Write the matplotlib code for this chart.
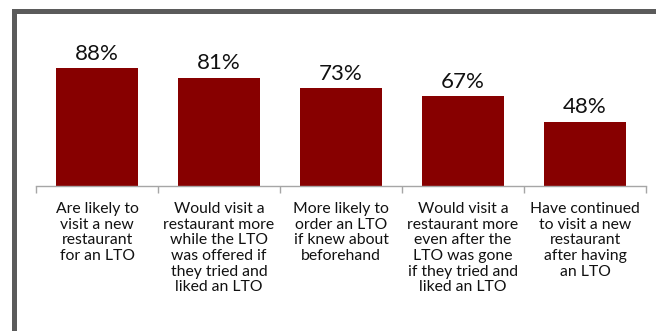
import matplotlib
matplotlib.use("Agg")
import matplotlib.pyplot as plt
from matplotlib.patches import Rectangle

categories = [
    "Are likely to\nvisit a new\nrestaurant\nfor an LTO",
    "Would visit a\nrestaurant more\nwhile the LTO\nwas offered if\nthey tried and\nliked an LTO",
    "More likely to\norder an LTO\nif knew about\nbeforehand",
    "Would visit a\nrestaurant more\neven after the\nLTO was gone\nif they tried and\nliked an LTO",
    "Have continued\nto visit a new\nrestaurant\nafter having\nan LTO",
]
values = [88, 81, 73, 67, 48]
value_labels = ["88%", "81%", "73%", "67%", "48%"]

W, H = 656, 331
fig = plt.figure(figsize=(W / 100, H / 100), dpi=100)
fig.patch.set_facecolor("white")
plt.rcParams['font.family'] = ['Lato', 'DejaVu Sans']

# frame (top and left dark border)
border = "#5b5b5b"
fig.add_artist(Rectangle((12 / W, 1 - 14 / H), 1 - 12 / W, 5 / H,
                         transform=fig.transFigure, color=border, lw=0))
fig.add_artist(Rectangle((12 / W, 0), 5 / W, 1 - 9 / H,
                         transform=fig.transFigure, color=border, lw=0))

base_y = 185.7
top_y = base_y - 133.4
ax = fig.add_axes([36 / W, 1 - base_y / H, 610 / W, (base_y - top_y) / H])
x = list(range(len(values)))
ax.bar(x, values, width=0.67, color="#870000")
ax.set_xlim(-0.5, len(values) - 0.5)
ax.set_ylim(0, 100)
for xi, v, lab in zip(x, values, value_labels):
    ax.text(xi, v + 3.2, lab, ha="center", va="bottom", fontsize=16, color="#111111")

for s in ["top", "left", "right"]:
    ax.spines[s].set_visible(False)
ax.spines["bottom"].set_color("#a6a6a6")
ax.spines["bottom"].set_linewidth(1.0)
ax.set_yticks([])
ax.set_xticks(x)
ax.set_xticklabels(categories, fontsize=11.3, linespacing=1.14, color="#111111")
ax.tick_params(axis="x", which="major", length=0, pad=12)
ax.set_xticks([i - 0.5 for i in range(len(values) + 1)], minor=True)
ax.tick_params(axis="x", which="minor", length=5, color="#a6a6a6", width=1.0)

fig.savefig("out.png", dpi=100)
